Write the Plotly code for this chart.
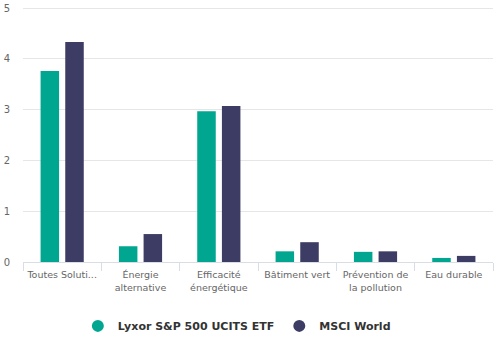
import plotly.graph_objects as go

categories = ["Toutes Soluti...", "Énergie<br>alternative", "Efficacité<br>énergétique",
              "Bâtiment vert", "Prévention de<br>la pollution", "Eau durable"]
series_names = ["Lyxor S&P 500 UCITS ETF", "MSCI World"]
lyxor = [3.76, 0.31, 2.97, 0.21, 0.20, 0.08]
msci = [4.33, 0.55, 3.07, 0.39, 0.21, 0.12]
colors = ["#00a68f", "#3c3c64"]
y_ticks = [0, 1, 2, 3, 4, 5]

fig = go.Figure()
for name, vals, col in zip(series_names, [lyxor, msci], colors):
    fig.add_trace(go.Bar(x=categories, y=vals, name=name, marker_color=col,
                         marker_line_width=0, showlegend=False))
for name, col in zip(series_names, colors):
    fig.add_trace(go.Scatter(x=[None], y=[None], mode="markers", name=name,
                             marker=dict(symbol="circle", size=11, color=col)))

fig.update_layout(
    width=500, height=337,
    margin=dict(l=23, r=7, t=7, b=75, autoexpand=False),
    paper_bgcolor="white", plot_bgcolor="white",
    barmode="group", bargap=0.37, bargroupgap=0.25,
    font=dict(family="DejaVu Sans", size=10, color="#666666"),
    showlegend=True,
    legend=dict(orientation="h", x=0.455, xanchor="center",
                yref="container", y=0.033, yanchor="middle",
                font=dict(size=11, color="#333333", family="DejaVu Sans", weight="bold"),
                itemsizing="constant", itemwidth=30, tracegroupgap=0),
)
fig.update_xaxes(showgrid=False, showline=True, linecolor="#d8dde6", linewidth=1,
                 ticks="outside", tickson="boundaries", ticklen=8, tickcolor="#d8dde6",
                 tickangle=0, automargin=False, ticklabelstandoff=4,
                 tickfont=dict(size=9.5, color="#666666"))
fig.update_yaxes(range=[0, 5.02], tickvals=y_ticks, showgrid=True, gridcolor="#e6e6e6",
                 zeroline=False, showline=False, ticks="", ticklabelstandoff=12,
                 automargin=False,
                 tickfont=dict(size=10, color="#666666"))

fig.write_html("out.html")
